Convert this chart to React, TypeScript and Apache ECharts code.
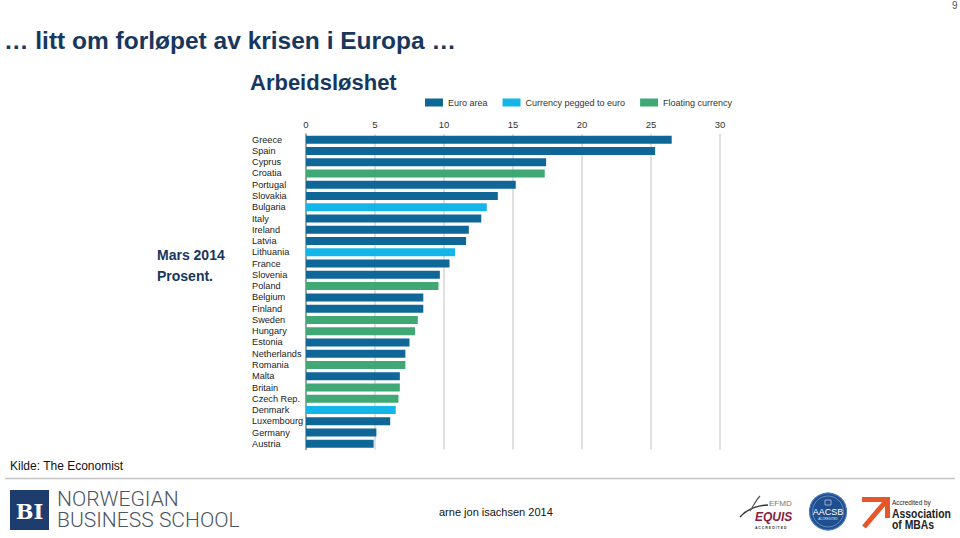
import React, { useEffect, useRef } from "react";
import * as echarts from "echarts";

const countries = [
  "Greece", "Spain", "Cyprus", "Croatia", "Portugal", "Slovakia", "Bulgaria", "Italy",
  "Ireland", "Latvia", "Lithuania", "France", "Slovenia", "Poland", "Belgium", "Finland",
  "Sweden", "Hungary", "Estonia", "Netherlands", "Romania", "Malta", "Britain", "Czech Rep.",
  "Denmark", "Luxembourg", "Germany", "Austria",
];
const unemployment = [
  26.5, 25.3, 17.4, 17.3, 15.2, 13.9, 13.1, 12.7,
  11.8, 11.6, 10.8, 10.4, 9.7, 9.6, 8.5, 8.5,
  8.1, 7.9, 7.5, 7.2, 7.2, 6.8, 6.8, 6.7,
  6.5, 6.1, 5.1, 4.9,
];
// E = euro area, P = currency pegged to euro, F = floating currency
const regime = [
  "E", "E", "E", "F", "E", "E", "P", "E",
  "E", "E", "P", "E", "E", "F", "E", "E",
  "F", "F", "E", "E", "F", "E", "F", "F",
  "P", "E", "E", "E",
];
const seriesNames = ["Euro area", "Currency pegged to euro", "Floating currency"];
const seriesKeys = ["E", "P", "F"];
const seriesColors = ["#0f6797", "#14b6ea", "#40a874"];
const xTicks = { min: 0, max: 30, interval: 5 };

const ARIAL = '"Liberation Sans", Arial, sans-serif';
const NAVY = "#17375e";

export default function App() {
  const ref = useRef<HTMLDivElement>(null);
  useEffect(() => {
    if (!ref.current) return;
    const chart = echarts.init(ref.current, undefined, { renderer: "svg" });
    const series = seriesKeys.map((k, i) => ({
      name: seriesNames[i],
      type: "bar",
      stack: "all",
      barWidth: 8,
      itemStyle: { color: seriesColors[i] },
      data: unemployment.map((v, j) => (regime[j] === k ? v : "-")),
    }));
    chart.setOption({
      animation: false,
      backgroundColor: "#ffffff",
      grid: { left: 306, right: 240, top: 134, height: 315.5, containLabel: false },
      legend: {
        data: seriesNames,
        left: 420,
        top: 93,
        itemWidth: 18,
        itemHeight: 8,
        itemGap: 15,
        icon: "rect",
        textStyle: { fontSize: 9, color: "#333", fontFamily: ARIAL },
      },
      xAxis: {
        type: "value",
        position: "top",
        min: xTicks.min,
        max: xTicks.max,
        interval: xTicks.interval,
        axisLine: { show: false },
        axisTick: { show: false },
        splitLine: { lineStyle: { color: "#d6d6d6", width: 1.5 } },
        axisLabel: { fontSize: 9.5, color: "#333", margin: 5, fontFamily: ARIAL },
      },
      yAxis: {
        type: "category",
        data: countries,
        inverse: true,
        axisTick: { show: false },
        axisLine: { show: true, lineStyle: { color: "#8c8c8c", width: 1.5 } },
        axisLabel: { interval: 0, align: "left", margin: 54, fontSize: 9.2, color: "#222", fontFamily: ARIAL },
      },
      series,
      graphic: [
        { type: "text", style: { text: "9", x: 952, y: 5, fill: "#555", font: `10px ${ARIAL}`, verticalAlign: "middle" } },
        { type: "text", style: { text: "… litt om forløpet av krisen i Europa …", x: 4, y: 40, fill: NAVY, font: `bold 24.5px ${ARIAL}`, verticalAlign: "middle" } },
        { type: "text", style: { text: "Arbeidsløshet", x: 250, y: 82, fill: NAVY, font: `bold 22px ${ARIAL}`, verticalAlign: "middle" } },
        { type: "text", style: { text: "Mars 2014", x: 157, y: 255, fill: NAVY, font: `bold 14px ${ARIAL}`, verticalAlign: "middle" } },
        { type: "text", style: { text: "Prosent.", x: 157, y: 276, fill: NAVY, font: `bold 14px ${ARIAL}`, verticalAlign: "middle" } },
        { type: "text", style: { text: "Kilde: The Economist", x: 10, y: 466, fill: "#111", font: `12px ${ARIAL}`, verticalAlign: "middle" } },
        { type: "line", shape: { x1: 5, y1: 478.5, x2: 955, y2: 478.5 }, style: { stroke: "#c4c4c4", lineWidth: 1.5 } },
        // BI logo
        { type: "rect", shape: { x: 10, y: 490, width: 39, height: 40 }, style: { fill: "#1f3c6e" } },
        { type: "text", style: { text: "BI", x: 29.5, y: 511, fill: "#fff", font: `bold 21px "DejaVu Serif", "Liberation Serif", serif`, align: "center", verticalAlign: "middle" } },
        { type: "text", x: 57, y: 499.5, scaleX: 1.17, scaleY: 1.12, style: { text: "NORWEGIAN", x: 0, y: 0, fill: "#4a5563", font: `300 18px Roboto, ${ARIAL}`, lineHeight: 17, verticalAlign: "middle" } },
        { type: "text", x: 57, y: 520.5, scaleX: 1.17, scaleY: 1.12, style: { text: "BUSINESS SCHOOL", x: 0, y: 0, fill: "#4a5563", font: `300 18px Roboto, ${ARIAL}`, lineHeight: 17, verticalAlign: "middle" } },
        { type: "text", style: { text: "arne jon isachsen 2014", x: 439, y: 512, fill: "#111", font: `11px ${ARIAL}`, verticalAlign: "middle" } },
        // EQUIS logo
        { type: "bezierCurve", shape: { x1: 740, y1: 517, x2: 768, y2: 505, cpx1: 748, cpy1: 508, cpx2: 760, cpy2: 505 }, style: { stroke: "#333", lineWidth: 1.5, fill: "none" } },
        { type: "bezierCurve", shape: { x1: 750, y1: 511, x2: 760, y2: 496, cpx1: 754, cpy1: 505, cpx2: 756, cpy2: 500 }, style: { stroke: "#555", lineWidth: 1.2, fill: "none" } },
        { type: "text", style: { text: "EFMD", x: 769, y: 503, fill: "#777", font: `8px ${ARIAL}`, verticalAlign: "middle" } },
        { type: "text", style: { text: "EQUIS", x: 755, y: 517, fill: "#8c1d40", font: `italic bold 12px ${ARIAL}`, verticalAlign: "middle" } },
        { type: "text", style: { text: "A C C R E D I T E D", x: 755, y: 527.5, fill: "#333", font: `bold 3.5px ${ARIAL}`, verticalAlign: "middle" } },
        // AACSB logo
        { type: "circle", shape: { cx: 828, cy: 511.5, r: 18.5 }, style: { fill: "#1f4f8f", stroke: "#4a78b8", lineWidth: 1.2 } },
        { type: "circle", shape: { cx: 828, cy: 511.5, r: 15.5 }, style: { fill: "none", stroke: "#8fb0dc", lineWidth: 0.6 } },
        { type: "rect", shape: { x: 825, y: 500, width: 6, height: 5 }, style: { fill: "none", stroke: "#dfe8f5", lineWidth: 0.6 } },
        { type: "text", style: { text: "AACSB", x: 828, y: 512, fill: "#fff", font: `9px ${ARIAL}`, align: "center", verticalAlign: "middle" } },
        { type: "text", style: { text: "ACCREDITED", x: 828, y: 518.5, fill: "#dfe8f5", font: `3px ${ARIAL}`, align: "center", verticalAlign: "middle" } },
        // AMBA logo
        { type: "polygon", shape: { points: [[862, 497], [890, 497], [890, 518], [885, 518], [885, 502], [862, 502]] }, style: { fill: "#e5562a" } },
        { type: "line", shape: { x1: 864, y1: 527, x2: 887, y2: 500 }, style: { stroke: "#e5562a", lineWidth: 5 } },
        { type: "text", x: 892, y: 502, scaleX: 0.8, style: { text: "Accredited by", x: 0, y: 0, fill: "#222", font: `8px ${ARIAL}`, lineHeight: 8, verticalAlign: "middle" } },
        { type: "text", x: 892, y: 513.5, scaleX: 0.8, style: { text: "Association", x: 0, y: 0, fill: "#222", font: `bold 13px ${ARIAL}`, lineHeight: 11, verticalAlign: "middle" } },
        { type: "text", x: 892, y: 524, scaleX: 0.8, style: { text: "of MBAs", x: 0, y: 0, fill: "#222", font: `bold 13px ${ARIAL}`, lineHeight: 10, verticalAlign: "middle" } },
      ],
    });
    return () => chart.dispose();
  }, []);
  return (
    <div
      ref={ref}
      style={{ position: "absolute", left: 0, top: 0, width: 960, height: 538, background: "#fff" }}
    />
  );
}
